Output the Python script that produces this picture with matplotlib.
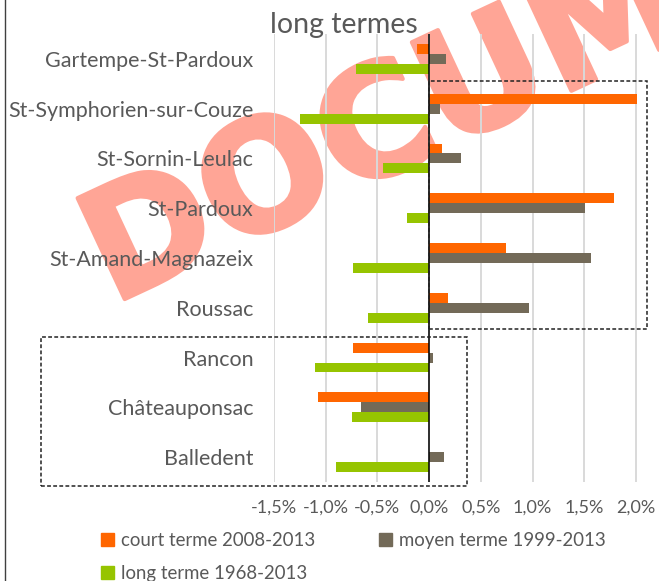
#!/usr/bin/env python
# -*- coding: utf-8 -*-
"""
Taux de variation annuel de la population par commune
(court, moyen et long termes) - barres horizontales groupées
"""

import matplotlib
matplotlib.use('Agg')
import matplotlib.pyplot as plt
import matplotlib.patheffects as pe
from matplotlib.patches import Rectangle, Patch
from matplotlib.lines import Line2D
import numpy as np

# Taille de l'image en pixels
W, H = 659, 581

# Données (en %)
communes = [
    'Gartempe-St-Pardoux', 'St-Symphorien-sur-Couze', 'St-Sornin-Leulac',
    'St-Pardoux', 'St-Amand-Magnazeix', 'Roussac',
    'Rancon', 'Châteauponsac', 'Balledent',
]
court_terme = [-0.12, 2.01, 0.12, 1.79, 0.74, 0.18, -0.74, -1.07, 0.0]
moyen_terme = [0.16, 0.11, 0.31, 1.51, 1.57, 0.97, 0.04, -0.66, 0.14]
long_terme = [-0.71, -1.25, -0.45, -0.21, -0.74, -0.59, -1.10, -0.75, -0.90]

series_labels = ['court terme 2008-2013', 'moyen terme 1999-2013', 'long terme 1968-2013']

x_ticks = [-1.5, -1.0, -0.5, 0.0, 0.5, 1.0, 1.5, 2.0]
x_tick_labels = ['-1,5%', '-1,0%', '-0,5%', '0,0%', '0,5%', '1,0%', '1,5%', '2,0%']

titre_debut = 'Variation de la '
titre_ligne1 = 'population annuelle à court, moyen et'
titre_ligne2 = 'long termes'

# Couleurs
ORANGE = '#FF6600'
GRIS = '#736A58'
VERT = '#96C400'
TEXTE = '#595959'
FILIGRANE = '#FFA596'

plt.rcParams['font.family'] = ['Lato', 'DejaVu Sans']


def px(x, y):
    """Pixels (origine en haut à gauche) -> coordonnées figure"""
    return x / W, 1 - y / H


def largeur_texte(fig, texte, taille):
    """Largeur en pixels d'un texte (mesurée avec le renderer)"""
    r = fig.canvas.get_renderer()
    t = fig.text(0, 0, texte, fontsize=taille)
    w = t.get_window_extent(r).width
    t.remove()
    return w


def main():
    fig = plt.figure(figsize=(W / 100, H / 100), dpi=100)
    fig.patch.set_facecolor('white')

    # Filigrane "DOCUMENT" derrière le graphique
    x0, y0 = px(112, 305)
    fig.text(x0, y0, 'DOCUMENT', fontsize=110, fontweight='bold',
             family='DejaVu Sans', color=FILIGRANE, rotation=25,
             rotation_mode='anchor', ha='left', va='baseline', zorder=-5,
             path_effects=[pe.withStroke(linewidth=3, foreground=FILIGRANE)])

    # Zone de tracé
    left, top = px(274, 34)
    right, bottom = px(274 + 3.7 * 103.4, 482)
    ax = fig.add_axes([left, bottom, right - left, top - bottom])
    ax.set_facecolor('none')

    y = np.arange(len(communes))
    h = 0.2
    ax.barh(y - h, court_terme, height=h, color=ORANGE, label=series_labels[0], zorder=3)
    ax.barh(y, moyen_terme, height=h, color=GRIS, label=series_labels[1], zorder=3)
    ax.barh(y + h, long_terme, height=h, color=VERT, label=series_labels[2], zorder=3)

    ax.set_xlim(-1.5, 2.2)
    ax.set_ylim(len(communes) - 0.5, -0.5)

    ax.set_xticks(x_ticks)
    ax.set_xticklabels(x_tick_labels)
    ax.set_yticks(y)
    ax.set_yticklabels(communes)
    ax.tick_params(axis='x', length=0, pad=12.5, labelsize=13, labelcolor=TEXTE)
    ax.tick_params(axis='y', length=0, pad=15, labelsize=15.5, labelcolor=TEXTE)

    ax.grid(axis='x', color='#D9D9D9', linewidth=1.4, zorder=1)
    ax.set_axisbelow(True)
    ax.axvline(0, color='black', linewidth=1.1, zorder=4)
    for s in ax.spines.values():
        s.set_visible(False)

    # Titre : la première ligne est coupée en haut de l'image,
    # on cale le début de "population" vers x = 86 px
    taille = 20.5
    decalage = largeur_texte(fig, titre_debut + 'p', taille) - largeur_texte(fig, 'p', taille)
    fig.text(*px(86 - decalage, -5.5), titre_debut + titre_ligne1,
             ha='left', va='baseline', fontsize=taille, color=TEXTE)
    fig.text(*px(344, 33), titre_ligne2, ha='center', va='baseline',
             fontsize=taille, color=TEXTE)

    # Cadres en pointillés
    for (xa, ya, xb, yb) in [(429, 81, 647, 329), (41, 337, 467, 486)]:
        fig.add_artist(Rectangle(px(xa, yb), (xb - xa) / W, (yb - ya) / H,
                                 transform=fig.transFigure, fill=False,
                                 edgecolor='#222222', linewidth=1.1,
                                 linestyle=(0, (2.5, 1.5)), zorder=6))

    # Bord gauche du cadre du graphique
    fig.add_artist(Line2D([5 / W, 5 / W], [0, 1], transform=fig.transFigure,
                          color='#404040', linewidth=1.0))

    # Légende (ordre pour obtenir court / moyen sur la 1re ligne)
    handles = [Patch(color=ORANGE, label=series_labels[0]),
               Patch(color=VERT, label=series_labels[2]),
               Patch(color=GRIS, label=series_labels[1])]
    fig.legend(handles=handles, ncol=2, loc='upper left',
               bbox_to_anchor=px(101, 532), frameon=False, fontsize=13.4,
               handlelength=0.7, handleheight=0.7, handletextpad=0.35,
               columnspacing=3.45, labelspacing=0.86, borderpad=0,
               borderaxespad=0, labelcolor=TEXTE)

    fig.savefig('out.png', dpi=100)


if __name__ == '__main__':
    main()
